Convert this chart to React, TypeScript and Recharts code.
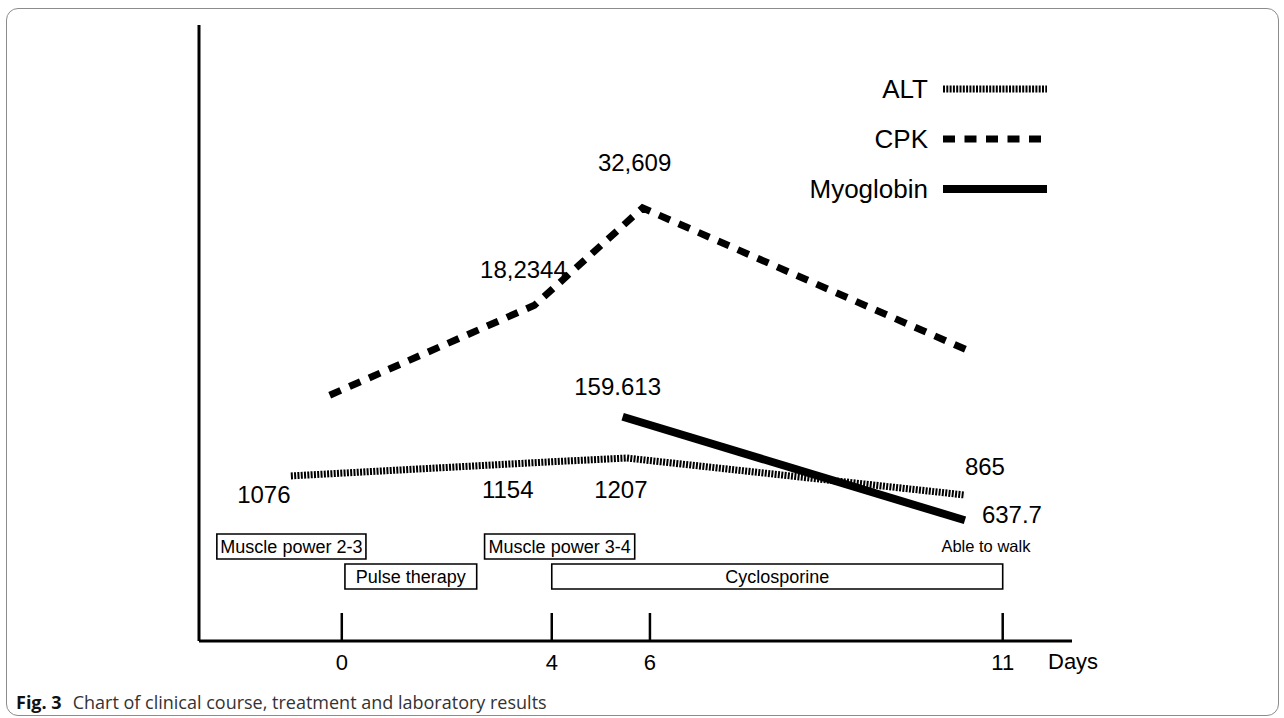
import {
  Label,
  LabelList,
  Legend,
  Line,
  LineChart,
  ReferenceArea,
  ReferenceLine,
  XAxis,
  YAxis,
} from "recharts";

// The figure is a schematic: days are not drawn to scale, so the x axis is a
// "timeline position" and each day tick sits where the figure draws it.
const dayTicks = ["0", "4", "6", "11"];
const dayTickPos = [0, 4, 5.87, 12.59];

// y is the drawn level (0-100) of each lab value, the printed number is the label
const altPos = [-0.97, 4.0, 5.43, 11.87];
const altLevel = [26.8, 29.1, 29.7, 23.7];
const altLabels = ["1076", "1154", "1207", "865"];

const cpkPos = [-0.23, 3.67, 5.73, 11.92];
const cpkLevel = [39.9, 54.5, 70.3, 47.2];
const cpkLabels = ["", "18,2344", "32,609", ""];

const myoPos = [5.35, 11.87];
const myoLevel = [36.4, 19.6];
const myoLabels = ["159.613", "637.7"];

// clinical events under the curves
const eventNames = ["Muscle power 2-3", "Pulse therapy", "Muscle power 3-4", "Cyclosporine", "Able to walk"];
const eventStart = [-2.38, 0.06, 2.72, 4.0, 11.47];
const eventEnd = [0.46, 2.57, 5.58, 12.59, 13.07];
const eventRow = [0, 1, 0, 1, 0];
const eventBoxed = [true, true, true, true, false];

const FONT = '"Liberation Sans", Arial, Helvetica, sans-serif';
const rowBand = [
  [13.31, 17.37],
  [8.44, 12.5],
];

// where each printed value sits relative to its point
const altLabelOffset = [
  [-27, 19],
  [-44, 28],
  [-6, 31],
  [20, -29],
];
const cpkLabelOffset = [
  [0, 0],
  [-11, -36],
  [-8, -45],
  [0, 0],
];
const myoLabelOffset = [
  [-5, -30],
  [47, -6],
];

const seriesStyle: Record<string, { width: number; dash?: string }> = {
  ALT: { width: 7, dash: "2 1.3" },
  CPK: { width: 7, dash: "12 9.5" },
  Myoglobin: { width: 8 },
};

const toRows = (pos: number[], level: number[], labels: string[]) =>
  pos.map((x, i) => ({ x, y: level[i], label: labels[i] }));

const altData = toRows(altPos, altLevel, altLabels);
const cpkData = toRows(cpkPos, cpkLevel, cpkLabels);
const myoData = toRows(myoPos, myoLevel, myoLabels);

function valueLabel(offsets: number[][]) {
  return (props: any) => {
    const { value, index } = props;
    if (!value) return null;
    const vx = props.viewBox?.x ?? props.x;
    const vy = props.viewBox?.y ?? props.y;
    const [dx, dy] = offsets[index] ?? [0, 0];
    return (
      <text
        x={vx + dx}
        y={vy + dy}
        textAnchor="middle"
        dominantBaseline="central"
        fontSize={24}
        fill="#000"
        fontFamily={FONT}
      >
        {value}
      </text>
    );
  };
}

function DaysLabel(props: any) {
  const vb = props.viewBox;
  return (
    <text x={vb.x + vb.width - 24} y={vb.y + 28} fontSize={22} fill="#000" fontFamily={FONT}>
      Days
    </text>
  );
}

function LegendBlock(props: any) {
  const items: any[] = props.payload ?? [];
  return (
    <div style={{ fontFamily: FONT, fontSize: 26, color: "#000" }}>
      {items.map((entry) => {
        const st = seriesStyle[entry.value] ?? { width: 7 };
        return (
          <div key={entry.value} style={{ display: "flex", alignItems: "center", height: 50 }}>
            <span style={{ width: 148, textAlign: "right", lineHeight: "26px" }}>{entry.value}</span>
            <svg width={104} height={12} style={{ marginLeft: 15 }}>
              <line x1={0} y1={6} x2={104} y2={6} stroke="#000" strokeWidth={st.width} strokeDasharray={st.dash} />
            </svg>
          </div>
        );
      })}
    </div>
  );
}

export default function App() {
  return (
    <div
      style={{
        position: "absolute",
        left: 0,
        top: 0,
        width: 1284,
        height: 718,
        background: "#fff",
        fontFamily: FONT,
        overflow: "hidden",
      }}
    >
      <div
        style={{
          position: "absolute",
          left: 6,
          top: 8,
          width: 1273,
          height: 708,
          boxSizing: "border-box",
          border: "1.5px solid #8c8c8c",
          borderRadius: 12,
        }}
      />
      <div style={{ position: "absolute", left: 0, top: 0 }}>
        <LineChart width={1284} height={718} margin={{ top: 25, right: 212, bottom: 37, left: 197 }}>
          <XAxis
            type="number"
            dataKey="x"
            domain={[-2.72, 13.91]}
            ticks={dayTickPos}
            interval={0}
            tickFormatter={(v: number) => dayTicks[dayTickPos.indexOf(v)] ?? ""}
            tick={{ fontSize: 22, fill: "#000", fontFamily: FONT }}
            tickLine={false}
            tickSize={0}
            tickMargin={13}
            height={40}
            axisLine={{ stroke: "#000", strokeWidth: 3 }}
            allowDataOverflow
            label={DaysLabel}
          />
          <YAxis
            type="number"
            domain={[0, 100]}
            width={2}
            tick={false}
            tickLine={false}
            axisLine={{ stroke: "#000", strokeWidth: 3 }}
            allowDataOverflow
          />
          {dayTickPos.map((p) => (
            <ReferenceLine
              key={p}
              segment={[
                { x: p, y: 0 },
                { x: p, y: 4.55 },
              ]}
              stroke="#000"
              strokeWidth={2.5}
            />
          ))}
          {eventNames.map((name, i) => (
            <ReferenceArea
              key={name}
              x1={eventStart[i]}
              x2={eventEnd[i]}
              y1={rowBand[eventRow[i]][0]}
              y2={rowBand[eventRow[i]][1]}
              fill={eventBoxed[i] ? "#fff" : "none"}
              fillOpacity={1}
              stroke={eventBoxed[i] ? "#000" : "none"}
              strokeWidth={1.6}
              ifOverflow="visible"
            >
              <Label
                value={name}
                position="center"
                fontSize={eventBoxed[i] ? 18 : 16.5}
                fill="#000"
                fontFamily={FONT}
              />
            </ReferenceArea>
          ))}
          <Legend
            layout="vertical"
            align="center"
            verticalAlign="middle"
            content={LegendBlock}
            wrapperStyle={{ left: 780, top: 64, width: 290 }}
          />
          <Line
            data={altData}
            dataKey="y"
            name="ALT"
            type="linear"
            stroke="#000"
            strokeWidth={seriesStyle.ALT.width}
            strokeDasharray={seriesStyle.ALT.dash}
            dot={false}
            activeDot={false}
            isAnimationActive={false}
          >
            <LabelList dataKey="label" content={valueLabel(altLabelOffset)} />
          </Line>
          <Line
            data={cpkData}
            dataKey="y"
            name="CPK"
            type="linear"
            stroke="#000"
            strokeWidth={seriesStyle.CPK.width}
            strokeDasharray={seriesStyle.CPK.dash}
            dot={false}
            activeDot={false}
            isAnimationActive={false}
          >
            <LabelList dataKey="label" content={valueLabel(cpkLabelOffset)} />
          </Line>
          <Line
            data={myoData}
            dataKey="y"
            name="Myoglobin"
            type="linear"
            stroke="#000"
            strokeWidth={seriesStyle.Myoglobin.width}
            dot={false}
            activeDot={false}
            isAnimationActive={false}
          >
            <LabelList dataKey="label" content={valueLabel(myoLabelOffset)} />
          </Line>
        </LineChart>
      </div>
      <div
        style={{
          position: "absolute",
          left: 16,
          top: 690,
          fontFamily: '"Open Sans", sans-serif',
          fontSize: 18,
          color: "#333",
          whiteSpace: "nowrap",
        }}
      >
        <b style={{ color: "#111", marginRight: 11 }}>Fig. 3</b>
        Chart of clinical course, treatment and laboratory results
      </div>
    </div>
  );
}
